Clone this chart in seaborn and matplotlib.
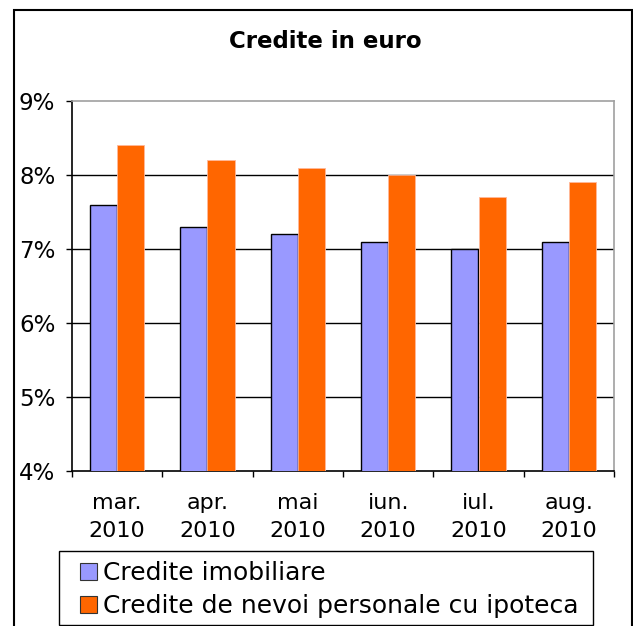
import matplotlib
matplotlib.use("Agg")
import matplotlib.pyplot as plt
import seaborn as sns
import pandas as pd
from matplotlib.patches import Rectangle
from matplotlib.ticker import FixedLocator

months = ["mar.\n2010", "apr.\n2010", "mai\n2010", "iun.\n2010", "iul.\n2010", "aug.\n2010"]
series_names = ["Credite imobiliare", "Credite de nevoi personale cu ipoteca"]
credite_imobiliare = [7.6, 7.3, 7.2, 7.1, 7.0, 7.1]
credite_nevoi = [8.4, 8.2, 8.1, 8.0, 7.7, 7.9]
y_ticks = [4, 5, 6, 7, 8, 9]
title = "Credite in euro"

colors = ["#9999FF", "#FF6600"]

df = pd.DataFrame({
    "luna": months * 2,
    "serie": [series_names[0]] * len(months) + [series_names[1]] * len(months),
    "val": credite_imobiliare + credite_nevoi,
})

sns.set_style("white")
plt.rcParams["font.family"] = ["DejaVu Sans"]
plt.rcParams["text.color"] = "black"
plt.rcParams["xtick.labelcolor"] = "black"
plt.rcParams["ytick.labelcolor"] = "black"

fig = plt.figure(figsize=(6.33, 6.26), dpi=100)
ax = fig.add_axes([72 / 633, 1 - 471 / 626, 542 / 633, 370 / 626])

sns.barplot(data=df, x="luna", y="val", hue="serie", palette=colors,
            saturation=1, width=0.6, ax=ax, legend=True, zorder=3)

for p in ax.patches[:len(months)]:
    p.set_edgecolor("#000000")
    p.set_linewidth(1.0)
for p in ax.patches[len(months):2 * len(months)]:
    p.set_edgecolor("#FFB89A")
    p.set_linewidth(0.6)

ax.set_ylim(4, 9)
ax.set_xlim(-0.5, len(months) - 0.5)
ax.set_yticks(y_ticks)
ax.set_yticklabels([f"{t}%" for t in y_ticks], fontsize=16.5)
ax.set_xlabel("")
ax.set_ylabel("")
ax.set_xticks(range(len(months)))
ax.set_xticklabels(months, fontsize=16, linespacing=1.5)
ax.tick_params(axis="x", which="major", length=0, pad=16)
ax.xaxis.set_minor_locator(FixedLocator([i - 0.5 for i in range(len(months) + 1)]))
ax.tick_params(axis="x", which="minor", length=4, width=1, color="black", direction="out", bottom=True)
ax.tick_params(axis="y", length=4, width=1, color="black", direction="out", pad=8, left=True)

for y in y_ticks[1:-1]:
    ax.axhline(y, color="black", linewidth=1.0, zorder=1)

ax.spines["left"].set_color("black")
ax.spines["bottom"].set_color("black")
ax.spines["top"].set_color("#A0A0A0")
ax.spines["right"].set_color("#A0A0A0")
for s in ax.spines.values():
    s.set_linewidth(1.2)
    s.set_visible(True)

handles, labels = ax.get_legend_handles_labels()
ax.get_legend().remove()
leg = fig.legend(handles, labels, loc="upper left",
                 bbox_to_anchor=(80 / 633, 1 - 561 / 626),
                 fontsize=18, frameon=False,
                 handlelength=0.68, handleheight=0.68,
                 handletextpad=0.25, borderpad=0.0, labelspacing=0.38,
                 borderaxespad=0)
for h in leg.legend_handles:
    h.set_edgecolor("#333333")
    h.set_linewidth(0.8)

fig.patches.append(Rectangle((59 / 633, 1 - 625 / 626), (593 - 59) / 633, 74 / 626,
                             transform=fig.transFigure, fill=False,
                             edgecolor="black", linewidth=1.0))

fig.text(325 / 633, 1 - 42 / 626, title, ha="center", va="center",
         fontsize=16.5, fontweight="bold")

fig.patches.append(Rectangle((14 / 633, -0.01), (632 - 14) / 633, 1 - 10 / 626 + 0.01,
                             transform=fig.transFigure, fill=False,
                             edgecolor="black", linewidth=1.5))

fig.savefig("out.png", dpi=100)
